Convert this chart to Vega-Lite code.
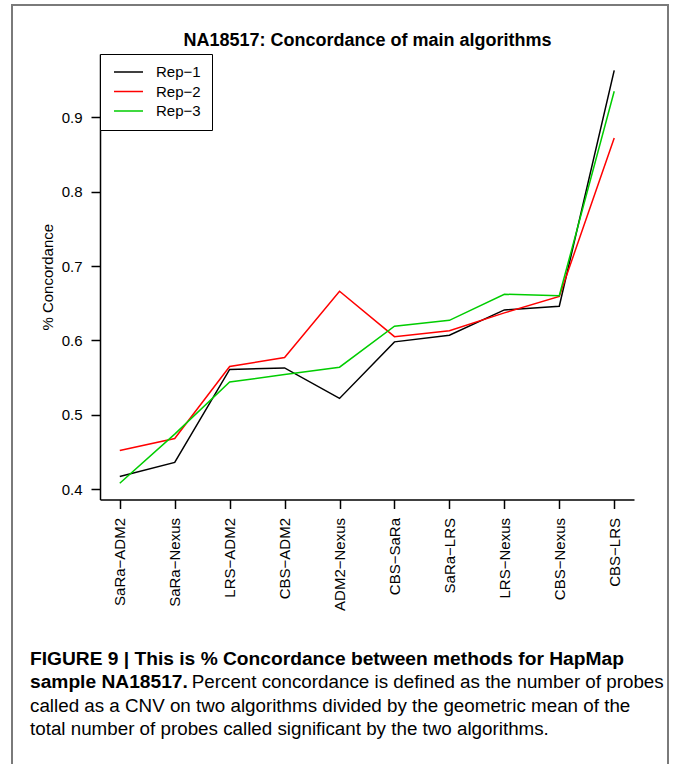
{
  "$schema": "https://vega.github.io/schema/vega-lite/v6.json",
  "width": 656,
  "height": 762,
  "autosize": {"type": "none"},
  "padding": {"left": 12, "top": 5, "right": 5, "bottom": 0},
  "background": "white",
  "config": {
    "font": "Liberation Sans",
    "view": {"stroke": "#7a7a7a", "strokeWidth": 2, "fill": "white"},
    "axis": {"domainColor": "black", "tickColor": "black", "labelColor": "black", "titleColor": "black", "domainWidth": 1.5, "tickWidth": 1.5, "grid": false, "labelFontSize": 15, "tickSize": 9, "labelPadding": 9}
  },
  "title": {
    "text": ["FIGURE 9 | This is % Concordance between methods for HapMap", "sample NA18517."],
    "subtitle": ["\u200b\u00a0\u00a0\u00a0\u00a0\u00a0\u00a0\u00a0\u00a0\u00a0\u00a0\u00a0\u00a0\u00a0\u00a0\u00a0\u00a0\u00a0\u00a0\u00a0\u00a0\u00a0\u00a0\u00a0\u00a0\u00a0\u00a0\u00a0\u00a0\u00a0\u00a0\u00a0Percent concordance is defined as the number of probes", "called as a CNV on two algorithms divided by the geometric mean of the", "total number of probes called significant by the two algorithms."],
    "orient": "bottom",
    "anchor": "start",
    "frame": "group",
    "offset": -117,
    "dx": 18,
    "fontSize": 19.2,
    "fontWeight": "bold",
    "lineHeight": 23.4,
    "color": "black",
    "subtitleFontSize": 18.8,
    "subtitleFontWeight": "normal",
    "subtitleLineHeight": 23.4,
    "subtitleColor": "black",
    "subtitlePadding": -19.4
  },
  "data": {
    "values": [
      {"pair": "SaRa−ADM2", "rep": "Rep−1", "conc": 0.417},
      {"pair": "SaRa−Nexus", "rep": "Rep−1", "conc": 0.436},
      {"pair": "LRS−ADM2", "rep": "Rep−1", "conc": 0.561},
      {"pair": "CBS−ADM2", "rep": "Rep−1", "conc": 0.563},
      {"pair": "ADM2−Nexus", "rep": "Rep−1", "conc": 0.522},
      {"pair": "CBS−SaRa", "rep": "Rep−1", "conc": 0.598},
      {"pair": "SaRa−LRS", "rep": "Rep−1", "conc": 0.607},
      {"pair": "LRS−Nexus", "rep": "Rep−1", "conc": 0.641},
      {"pair": "CBS−Nexus", "rep": "Rep−1", "conc": 0.646},
      {"pair": "CBS−LRS", "rep": "Rep−1", "conc": 0.963},
      {"pair": "SaRa−ADM2", "rep": "Rep−2", "conc": 0.452},
      {"pair": "SaRa−Nexus", "rep": "Rep−2", "conc": 0.468},
      {"pair": "LRS−ADM2", "rep": "Rep−2", "conc": 0.565},
      {"pair": "CBS−ADM2", "rep": "Rep−2", "conc": 0.577},
      {"pair": "ADM2−Nexus", "rep": "Rep−2", "conc": 0.666},
      {"pair": "CBS−SaRa", "rep": "Rep−2", "conc": 0.605},
      {"pair": "SaRa−LRS", "rep": "Rep−2", "conc": 0.613},
      {"pair": "LRS−Nexus", "rep": "Rep−2", "conc": 0.637},
      {"pair": "CBS−Nexus", "rep": "Rep−2", "conc": 0.659},
      {"pair": "CBS−LRS", "rep": "Rep−2", "conc": 0.872},
      {"pair": "SaRa−ADM2", "rep": "Rep−3", "conc": 0.408},
      {"pair": "SaRa−Nexus", "rep": "Rep−3", "conc": 0.474},
      {"pair": "LRS−ADM2", "rep": "Rep−3", "conc": 0.544},
      {"pair": "CBS−ADM2", "rep": "Rep−3", "conc": 0.554},
      {"pair": "ADM2−Nexus", "rep": "Rep−3", "conc": 0.564},
      {"pair": "CBS−SaRa", "rep": "Rep−3", "conc": 0.619},
      {"pair": "SaRa−LRS", "rep": "Rep−3", "conc": 0.627},
      {"pair": "LRS−Nexus", "rep": "Rep−3", "conc": 0.662},
      {"pair": "CBS−Nexus", "rep": "Rep−3", "conc": 0.660},
      {"pair": "CBS−LRS", "rep": "Rep−3", "conc": 0.935}
    ]
  },
  "mark": {"type": "line", "strokeWidth": 1.5},
  "encoding": {
    "x": {
      "field": "pair",
      "type": "nominal",
      "sort": ["SaRa−ADM2", "SaRa−Nexus", "LRS−ADM2", "CBS−ADM2", "ADM2−Nexus", "CBS−SaRa", "SaRa−LRS", "LRS−Nexus", "CBS−Nexus", "CBS−LRS"],
      "scale": {"type": "point", "range": [88, 622], "padding": 0.36},
      "axis": {
        "orient": "bottom",
        "offset": -267.5,
        "labelAngle": -90,
        "labelAlign": "right",
        "labelBaseline": "middle",
        "title": "NA18517: Concordance of main algorithms",
        "titleX": 355,
        "titleY": -454.5,
        "titleAlign": "center",
        "titleBaseline": "alphabetic",
        "titleAngle": 0,
        "titleFontSize": 18,
        "titleFontWeight": "bold"
      }
    },
    "y": {
      "field": "conc",
      "type": "quantitative",
      "scale": {"domain": [0.3861, 0.985], "range": [494.5, 49], "nice": false, "zero": false},
      "axis": {
        "orient": "left",
        "offset": -88,
        "values": [0.4, 0.5, 0.6, 0.7, 0.8, 0.9],
        "format": ".1f",
        "title": "% Concordance",
        "titleFontSize": 15,
        "titleFontWeight": "normal",
        "titlePadding": 6
      }
    },
    "color": {
      "field": "rep",
      "type": "nominal",
      "scale": {"domain": ["Rep−1", "Rep−2", "Rep−3"], "range": ["#000000", "#ff0000", "#00cd00"]},
      "legend": {
        "orient": "none",
        "legendX": 88,
        "legendY": 49,
        "title": null,
        "symbolType": "stroke",
        "symbolSize": 841,
        "symbolStrokeWidth": 1.5,
        "clipHeight": 15,
        "rowPadding": 3.5,
        "labelOffset": 12,
        "labelFontSize": 15,
        "labelColor": "black",
        "padding": 10.5,
        "symbolOffset": 2.5,
        "strokeColor": "black",
        "fillColor": "white"
      }
    }
  }
}
